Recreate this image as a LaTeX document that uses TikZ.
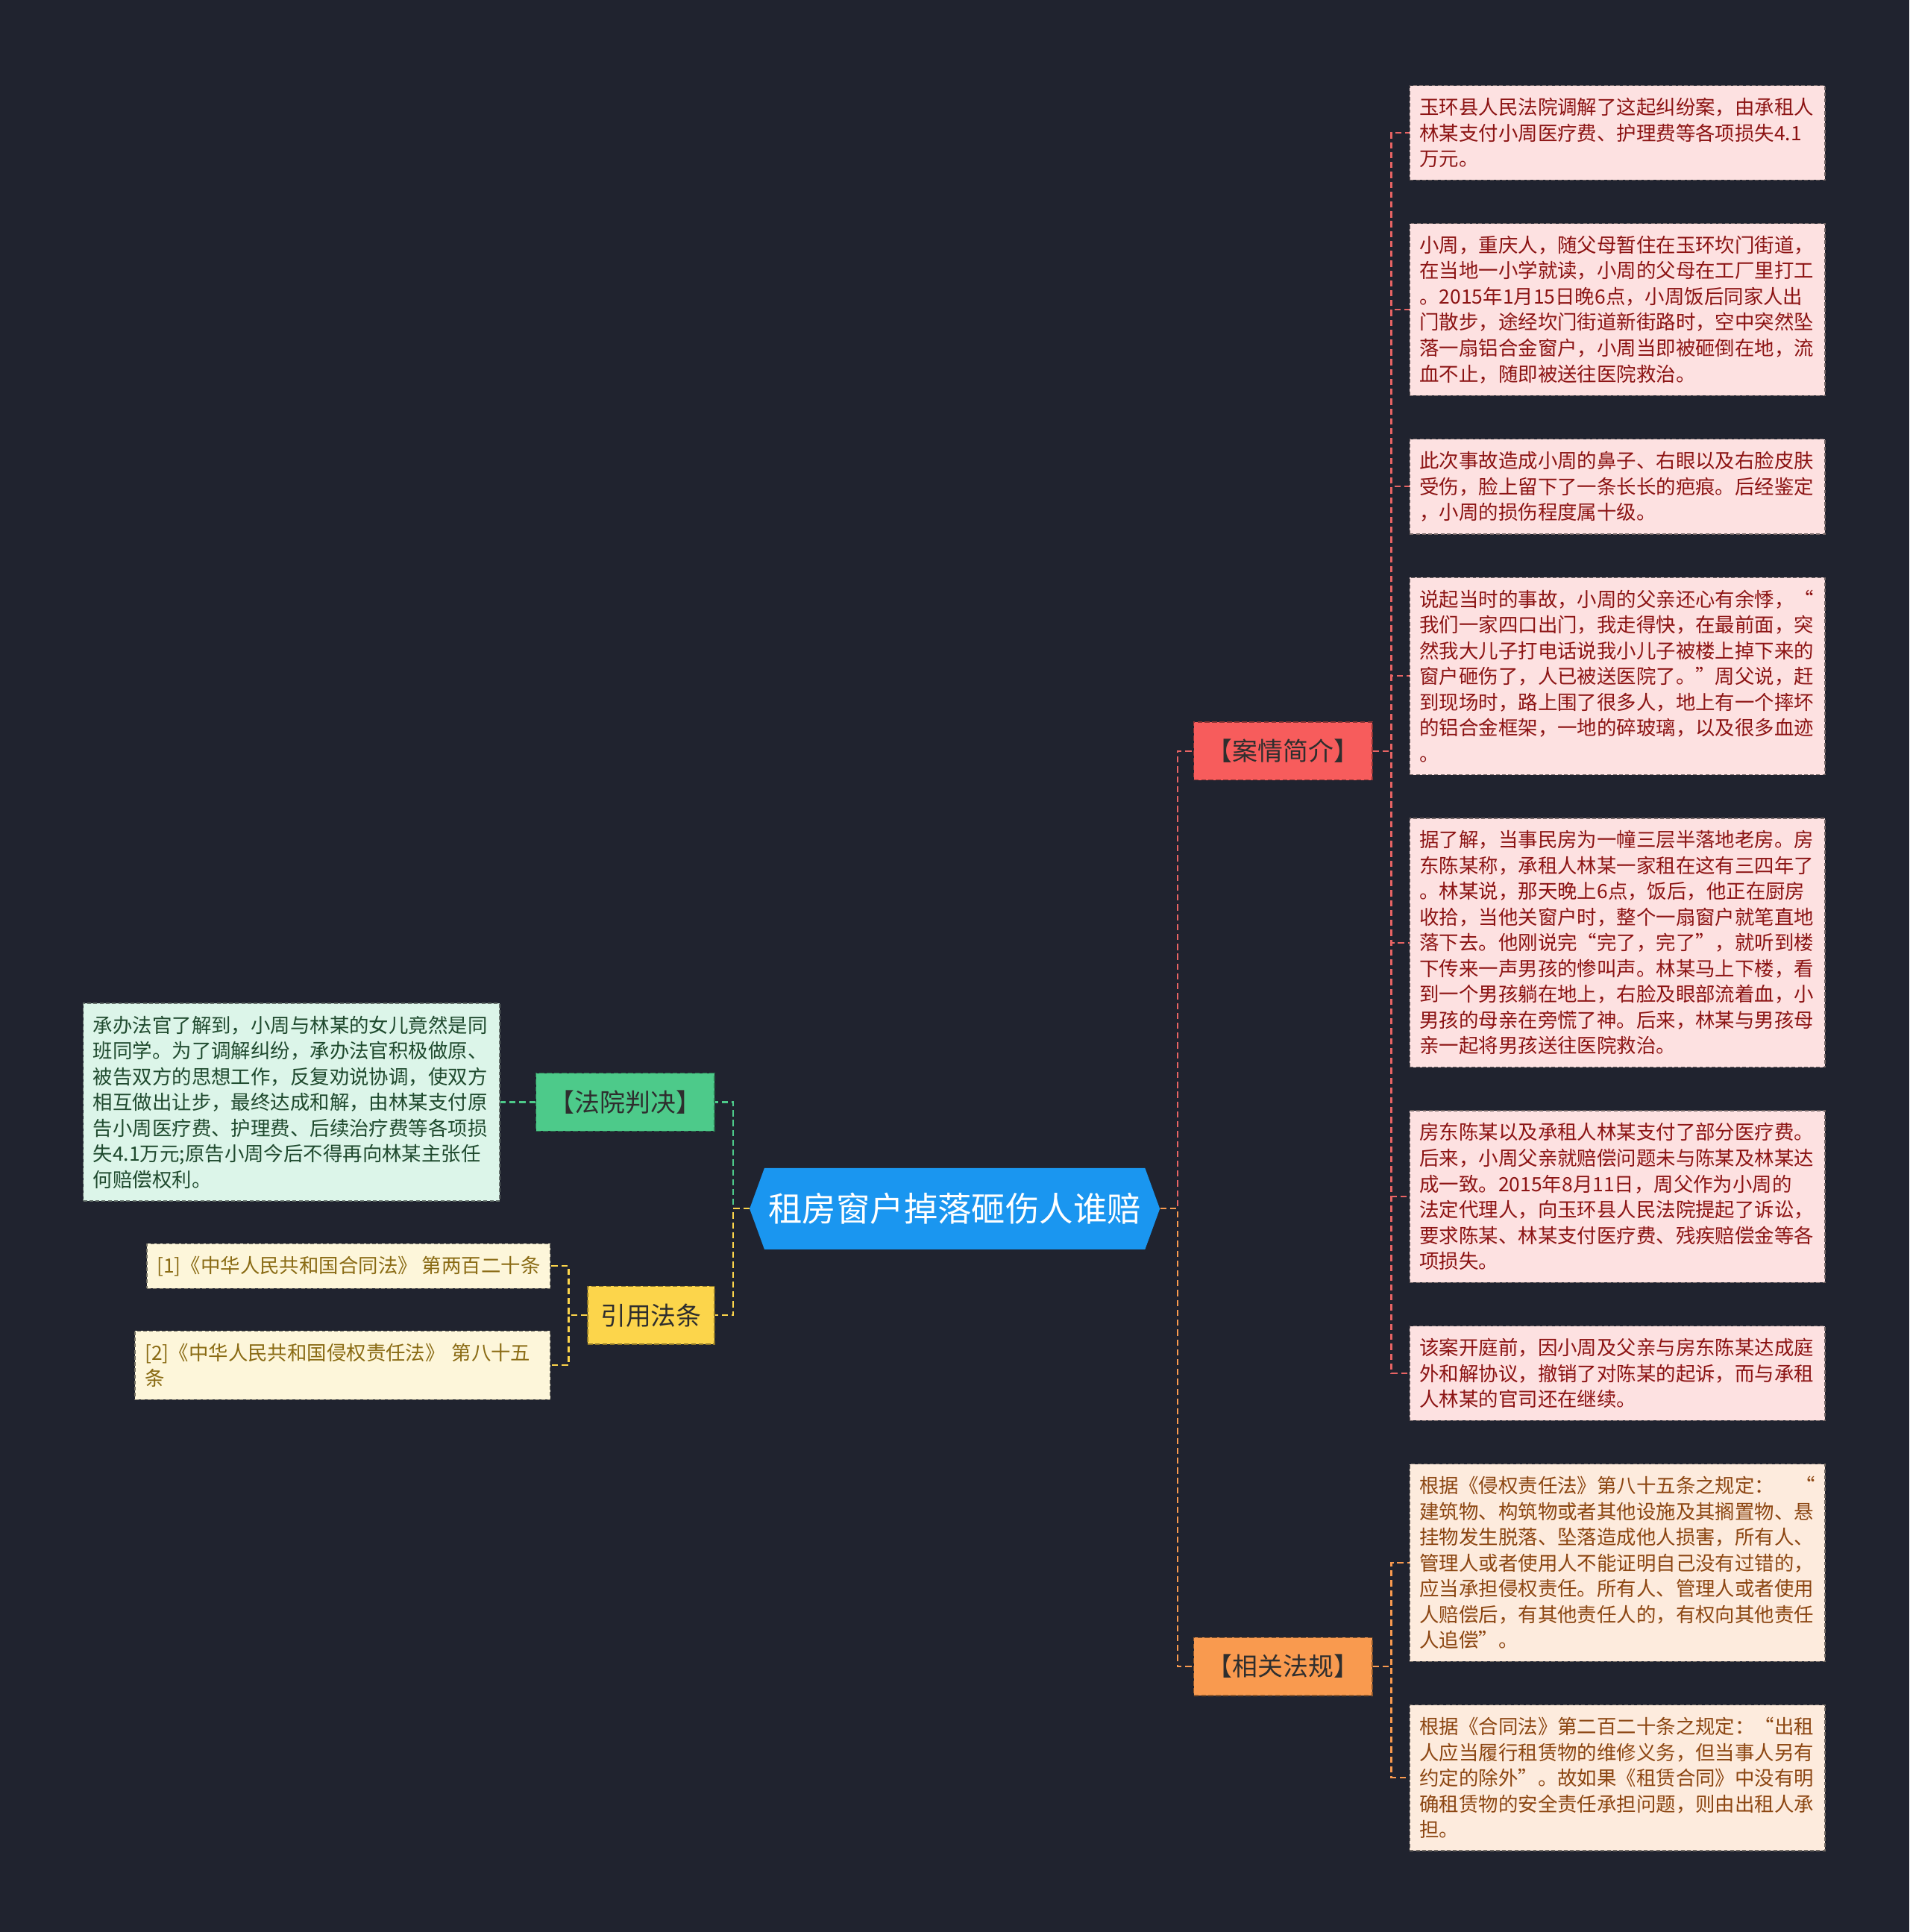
\documentclass[tikz,border=0pt]{standalone}
\usepackage{fontspec}
\setmainfont{Noto Sans CJK SC}
\usepackage{xcolor}
\usetikzlibrary{shapes,positioning}

\definecolor{bgdark}{HTML}{20232F}
\definecolor{rootblue}{HTML}{1A96F0}
\definecolor{casered}{HTML}{F75C5C}
\definecolor{caseline}{HTML}{E86464}
\definecolor{casefill}{HTML}{FDE1E1}
\definecolor{casetext}{HTML}{8C1414}
\definecolor{laworange}{HTML}{F99A4F}
\definecolor{lawfill}{HTML}{FDEBDD}
\definecolor{lawtext}{HTML}{8C4612}
\definecolor{courtgreen}{HTML}{4DCA8A}
\definecolor{courtfill}{HTML}{DCF5E9}
\definecolor{courttext}{HTML}{1F4A2E}
\definecolor{citeyellow}{HTML}{FCD54B}
\definecolor{citefill}{HTML}{FDF6DA}
\definecolor{citetext}{HTML}{8A6B14}
\definecolor{labeltext}{HTML}{2E2E2E}

\begin{document}
\begin{tikzpicture}[
    x=1pt, y=-1pt,
    node distance=34.5pt,
    hub/.style={signal, signal to=west and east, signal pointer angle=140, fill=rootblue, text=white, minimum width=333pt, minimum height=66pt, inner sep=2pt, font=\fontsize{27.5}{32}\selectfont},
    branch/.style={rectangle, draw, dash pattern=on 4pt off 2pt, line width=0.8pt, minimum height=47pt, inner sep=0pt, text=labeltext, font=\fontsize{20.5}{24}\selectfont},
    leaf/.style={rectangle, draw, dash pattern=on 3pt off 2pt, line width=0.8pt, align=left, inner xsep=8pt, inner ysep=10pt, font=\fontsize{16}{20.9}\selectfont},
    caseleaf/.style={leaf, fill=casefill, draw=casefill!45!black, text=casetext, text width=321pt},
    lawleaf/.style={leaf, fill=lawfill, draw=lawfill!45!black, text=lawtext, text width=321pt},
    courtleaf/.style={leaf, fill=courtfill, draw=courtfill!45!black, text=courttext, text width=322pt},
    citeleaf/.style={leaf, fill=citefill, draw=citefill!45!black, text=citetext},
    link/.style={line width=1.3pt, dash pattern=on 5pt off 3pt}
]
    \useasboundingbox (0,0) rectangle (1550,1568);
    \fill[bgdark] (0,0) rectangle (1550,1568);

    % Nodes
    \node[hub] (root) at (775,981) {租房窗户掉落砸伤人谁赔};
    \node[branch, fill=casered, draw=casered!55!black, minimum width=145pt] (case) at (1041.5,609.5) {【案情简介】};
    \node[branch, fill=laworange, draw=laworange!55!black, minimum width=145pt] (rules) at (1041.5,1352.5) {【相关法规】};
    \node[branch, fill=courtgreen, draw=courtgreen!55!black, minimum width=145pt] (court) at (507.5,894.5) {【法院判决】};
    \node[branch, fill=citeyellow, draw=citeyellow!55!black, minimum width=103pt] (cite) at (528.5,1067.5) {引用法条};

    \node[caseleaf, anchor=north west] (c1) at (1144,69) {玉环县人民法院调解了这起纠纷案，由承租人\\
林某支付小周医疗费、护理费等各项损失4.1\\
万元。};
    \node[caseleaf, below=of c1] (c2) {小周，重庆人，随父母暂住在玉环坎门街道，\\
在当地一小学就读，小周的父母在工厂里打工\\
。2015年1月15日晚6点，小周饭后同家人出\\
门散步，途经坎门街道新街路时，空中突然坠\\
落一扇铝合金窗户，小周当即被砸倒在地，流\\
血不止，随即被送往医院救治。};
    \node[caseleaf, below=of c2] (c3) {此次事故造成小周的鼻子、右眼以及右脸皮肤\\
受伤，脸上留下了一条长长的疤痕。后经鉴定\\
，小周的损伤程度属十级。};
    \node[caseleaf, below=of c3] (c4) {说起当时的事故，小周的父亲还心有余悸，“\\
我们一家四口出门，我走得快，在最前面，突\\
然我大儿子打电话说我小儿子被楼上掉下来的\\
窗户砸伤了，人已被送医院了。”周父说，赶\\
到现场时，路上围了很多人，地上有一个摔坏\\
的铝合金框架，一地的碎玻璃，以及很多血迹\\
。};
    \node[caseleaf, below=of c4] (c5) {据了解，当事民房为一幢三层半落地老房。房\\
东陈某称，承租人林某一家租在这有三四年了\\
。林某说，那天晚上6点，饭后，他正在厨房\\
收拾，当他关窗户时，整个一扇窗户就笔直地\\
落下去。他刚说完“完了，完了”，就听到楼\\
下传来一声男孩的惨叫声。林某马上下楼，看\\
到一个男孩躺在地上，右脸及眼部流着血，小\\
男孩的母亲在旁慌了神。后来，林某与男孩母\\
亲一起将男孩送往医院救治。};
    \node[caseleaf, below=of c5] (c6) {房东陈某以及承租人林某支付了部分医疗费。\\
后来，小周父亲就赔偿问题未与陈某及林某达\\
成一致。2015年8月11日，周父作为小周的\\
法定代理人，向玉环县人民法院提起了诉讼，\\
要求陈某、林某支付医疗费、残疾赔偿金等各\\
项损失。};
    \node[caseleaf, below=of c6] (c7) {该案开庭前，因小周及父亲与房东陈某达成庭\\
外和解协议，撤销了对陈某的起诉，而与承租\\
人林某的官司还在继续。};

    \node[lawleaf, below=of c7] (r1) {根据《侵权责任法》第八十五条之规定：\hfill“\\
建筑物、构筑物或者其他设施及其搁置物、悬\\
挂物发生脱落、坠落造成他人损害，所有人、\\
管理人或者使用人不能证明自己没有过错的，\\
应当承担侵权责任。所有人、管理人或者使用\\
人赔偿后，有其他责任人的，有权向其他责任\\
人追偿”。};
    \node[lawleaf, below=of r1] (r2) {根据《合同法》第二百二十条之规定：“出租\\
人应当履行租赁物的维修义务，但当事人另有\\
约定的除外”。故如果《租赁合同》中没有明\\
确租赁物的安全责任承担问题，则由出租人承\\
担。};

    \node[courtleaf, anchor=east] (j1) at (406,894.5) {承办法官了解到，小周与林某的女儿竟然是同\\
班同学。为了调解纠纷，承办法官积极做原、\\
被告双方的思想工作，反复劝说协调，使双方\\
相互做出让步，最终达成和解，由林某支付原\\
告小周医疗费、护理费、后续治疗费等各项损\\
失4.1万元;原告小周今后不得再向林某主张任\\
何赔偿权利。};

    \node[citeleaf, anchor=east] (k1) at (447,1027.5) {[1]《中华人民共和国合同法》 第两百二十条};
    \node[citeleaf, anchor=east, text width=321pt] (k2) at (447,1108) {[2]《中华人民共和国侵权责任法》 第八十五\\
条};

    % Connectors
    \draw[link, caseline] (root.east) -- ++(14pt,0) |- (case.west);
    \draw[link, laworange] (root.east) -- ++(14pt,0) |- (rules.west);
    \draw[link, courtgreen] (root.west) -- ++(-13pt,0) |- (court.east);
    \draw[link, citeyellow] (root.west) -- ++(-13pt,0) |- (cite.east);
    \foreach \n in {c1,c2,c3,c4,c5,c6,c7}
        \draw[link, caseline] (case.east) -- ++(15pt,0) |- (\n.west);
    \foreach \n in {r1,r2}
        \draw[link, laworange] (rules.east) -- ++(15pt,0) |- (\n.west);
    \draw[link, courtgreen] (court.west) -- (j1.east);
    \foreach \n in {k1,k2}
        \draw[link, citeyellow] (cite.west) -- ++(-15pt,0) |- (\n.east);
\end{tikzpicture}
\end{document}
